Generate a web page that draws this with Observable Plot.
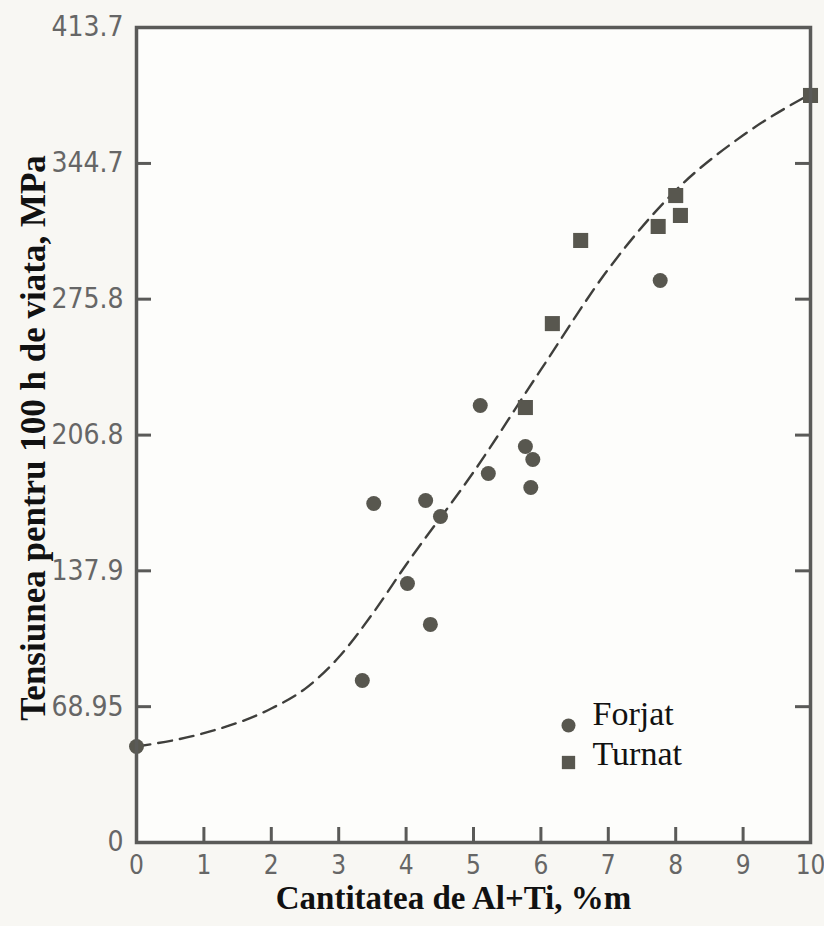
<!DOCTYPE html>
<html>
<head>
<meta charset="utf-8">
<script src="https://cdn.jsdelivr.net/npm/d3@7"></script>
<script src="https://cdn.jsdelivr.net/npm/@observablehq/plot@0.6"></script>
<style>
  html, body { margin: 0; padding: 0; background: #f8f7f3; }
  #chart svg { display: block; }
</style>
</head>
<body>
<div id="chart"></div>
<script>
// Forjat (forged) – circles
const forjatX = [0, 3.35, 3.52, 4.02, 4.29, 4.36, 4.51, 5.10, 5.22, 5.77, 5.88, 5.85, 7.77];
const forjatY = [48.7, 82.2, 172.1, 131.5, 173.6, 110.7, 165.5, 221.8, 187.3, 201.0, 194.4, 180.2, 285.3];
// Turnat (cast) – squares
const turnatX = [5.77, 6.17, 6.59, 7.74, 8.00, 8.07, 10];
const turnatY = [220.8, 263.4, 305.6, 312.7, 328.4, 318.3, 379.2];
// Dashed trend curve
const curveX = [0, 1, 2, 2.5, 3, 3.5, 4, 5, 6, 7, 8, 9, 10];
const curveY = [48.7, 55.5, 68, 78, 94, 116, 141, 188, 240, 291, 331, 359, 380];
// Ticks
const xTicks = [0, 1, 2, 3, 4, 5, 6, 7, 8, 9, 10];
const yTicks = [0, 68.95, 137.9, 206.8, 275.8, 344.7, 413.7];
const yTickLabels = ["0", "68.95", "137.9", "206.8", "275.8", "344.7", "413.7"];
const xTitle = "Cantitatea de Al+Ti, %m";
const yTitle = "Tensiunea pentru 100 h de viata, MPa";
const legendLabels = ["Forjat", "Turnat"];

const W = 824, H = 926;
const mL = 136, mR = 14, mT = 27, mB = 84;
const plotW = W - mL - mR, plotH = H - mT - mB;
const markColor = "#58574f";
const frameColor = "#5a5a58";
const tickFont = "'Liberation Sans Narrow', 'DejaVu Sans Condensed', 'Roboto', sans-serif";
const serif = "'Liberation Serif', 'DejaVu Serif', serif";
const innerTicksY = yTicks.slice(1, -1);
const innerTicksX = xTicks.slice(1, -1);

const forjat = forjatX.map((x, i) => ({x, y: forjatY[i]}));
const turnat = turnatX.map((x, i) => ({x, y: turnatY[i]}));
const curve = curveX.map((x, i) => ({x, y: curveY[i]}));

const chart = Plot.plot({
  width: W,
  height: H,
  marginLeft: mL, marginRight: mR, marginTop: mT, marginBottom: mB,
  style: {background: "#f8f7f3", overflow: "visible"},
  x: {domain: [0, 10]},
  y: {domain: [0, 413.7]},
  marks: [
    Plot.frame({fill: "#fdfdfb", stroke: null}),
    Plot.line(curve, {x: "x", y: "y", curve: "monotone-x", stroke: "#3f3f3c", strokeWidth: 2.4, strokeDasharray: "14,8"}),
    Plot.dot(forjat, {x: "x", y: "y", r: 7.5, fill: markColor, stroke: null}),
    Plot.dot(turnat, {x: "x", y: "y", symbol: "square", r: 8.5, fill: markColor, stroke: null}),
    // inward ticks
    Plot.tickY(innerTicksY, {y: d => d, insetRight: plotW - 15, stroke: frameColor, strokeWidth: 3}),
    Plot.tickY(innerTicksY, {y: d => d, insetLeft: plotW - 15, stroke: frameColor, strokeWidth: 3}),
    Plot.tickX(innerTicksX, {x: d => d, insetTop: plotH - 15, stroke: frameColor, strokeWidth: 3}),
    Plot.frame({stroke: frameColor, strokeWidth: 3.5}),
    Plot.axisY(yTicks, {tickSize: 0, tickPadding: 13, tickFormat: (d, i) => yTickLabels[i], fontSize: 28, fontFamily: tickFont, fill: "#666", label: null}),
    Plot.axisX(xTicks, {tickSize: 0, tickPadding: 13, tickFormat: d => String(d), fontSize: 26, fontFamily: tickFont, fill: "#666", label: null}),
    Plot.text([xTitle], {frameAnchor: "bottom", dx: -20, dy: 66, fontSize: 33, fontWeight: "bold", fontFamily: serif, fill: "#111"}),
    Plot.text([yTitle], {frameAnchor: "left", textAnchor: "middle", rotate: -90, dx: -103, dy: 3, fontSize: 35, fontWeight: "bold", fontFamily: serif, fill: "#111"}),
    // legend
    Plot.dot([legendLabels[0]], {frameAnchor: "bottom-left", dx: 432, dy: -117, r: 7, fill: markColor, stroke: null}),
    Plot.dot([legendLabels[1]], {frameAnchor: "bottom-left", dx: 432, dy: -80, r: 7.5, symbol: "square", fill: markColor, stroke: null}),
    Plot.text([legendLabels[0]], {frameAnchor: "bottom-left", dx: 456, dy: -118, text: d => d, textAnchor: "start", fontSize: 34, fontFamily: serif, fill: "#111"}),
    Plot.text([legendLabels[1]], {frameAnchor: "bottom-left", dx: 456, dy: -78, text: d => d, textAnchor: "start", fontSize: 34, fontFamily: serif, fill: "#111"})
  ]
});
document.getElementById("chart").appendChild(chart);
</script>
</body>
</html>
